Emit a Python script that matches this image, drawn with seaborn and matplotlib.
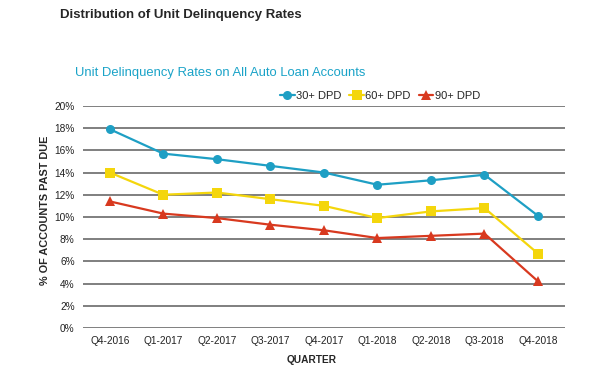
import numpy as np
import pandas as pd
import seaborn as sns
import matplotlib.pyplot as plt

# dados
quarters = ["Q4-2016", "Q1-2017", "Q2-2017", "Q3-2017", "Q4-2017",
            "Q1-2018", "Q2-2018", "Q3-2018", "Q4-2018"]
dpd30 = [17.9, 15.7, 15.2, 14.6, 14.0, 12.9, 13.3, 13.8, 10.1]
dpd60 = [14.0, 12.0, 12.2, 11.6, 11.0, 9.9, 10.5, 10.8, 6.7]
dpd90 = [11.4, 10.3, 9.9, 9.3, 8.8, 8.1, 8.3, 8.5, 4.2]
series = ["30+ DPD", "60+ DPD", "90+ DPD"]
colors = ["#1E9FC4", "#F4D60C", "#D8391F"]
markers = ["o", "s", "^"]

df = pd.DataFrame({"quarter": quarters, "30+ DPD": dpd30,
                   "60+ DPD": dpd60, "90+ DPD": dpd90})
df["pos"] = np.arange(len(quarters))
long = df.melt(id_vars=["quarter", "pos"], var_name="serie", value_name="taxa")

sns.set_style("white")
plt.rcParams["font.family"] = ["Liberation Sans", "DejaVu Sans"]

fig = plt.figure(figsize=(6.06, 3.85), dpi=100)
ax = fig.add_axes([0.137, 0.148, 0.795, 0.577])

sns.lineplot(data=long, x="pos", y="taxa", hue="serie", style="serie",
             hue_order=series, style_order=series, palette=colors,
             markers=markers, dashes=False, linewidth=1.6, markersize=6.5,
             markeredgewidth=0, ax=ax)

ax.set_xlim(-0.5, 8.5)
ax.set_ylim(0, 20)
ax.set_yticks(np.arange(0, 21, 2))
ax.set_yticklabels([f"{v}%" for v in range(0, 21, 2)], fontsize=7.3, color="#222222")
ax.set_xticks(df["pos"])
ax.set_xticklabels(quarters, fontsize=7.3, color="#222222")
ax.tick_params(axis="x", length=0, pad=6)
ax.tick_params(axis="y", length=0, pad=6)
ax.yaxis.grid(True, color="#7f7f7f", linewidth=1.4)
ax.set_axisbelow(True)
for s in ax.spines.values():
    s.set_visible(False)

ax.set_xlabel("QUARTER", fontsize=7.3, fontweight="bold")
ax.xaxis.set_label_coords(0.475, -0.12)
ax.set_ylabel("% OF ACCOUNTS PAST DUE", fontsize=7.8, fontweight="bold")
ax.yaxis.set_label_coords(-0.068, 0.53)

ax.legend(loc="center right", bbox_to_anchor=(0.824, 1.045), ncol=3, frameon=False,
          fontsize=8, handlelength=1.3, handletextpad=0.15, columnspacing=0.7,
          borderaxespad=0, borderpad=0)

fig.text(0.099, 0.96, "Distribution of Unit Delinquency Rates", fontsize=9.5,
         fontweight="bold", va="center")
fig.text(0.124, 0.81, "Unit Delinquency Rates on All Auto Loan Accounts",
         fontsize=9.4, color="#1AA3C8", va="center")

plt.savefig("out.png", dpi=100)
